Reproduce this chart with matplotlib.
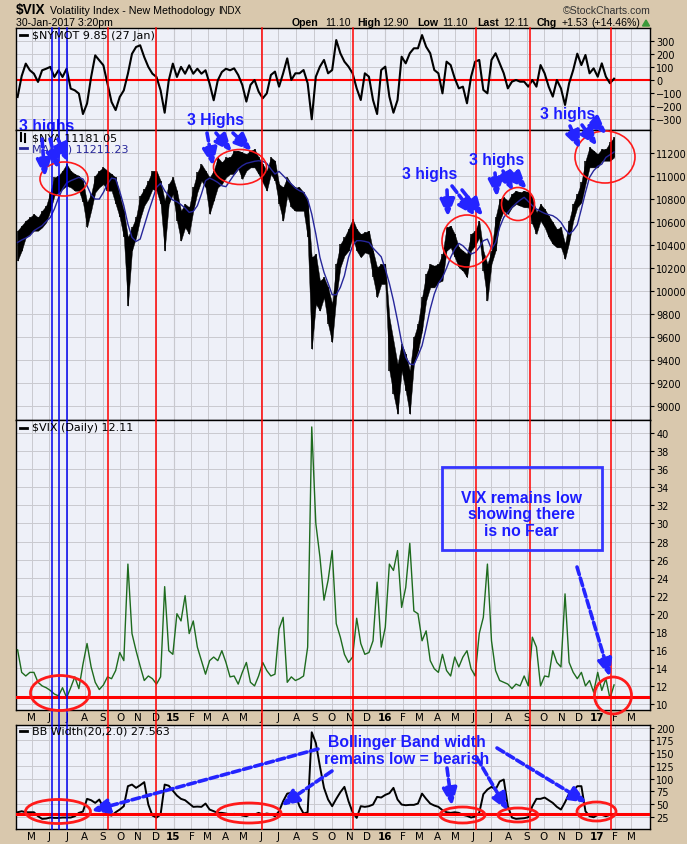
import numpy as np
import pandas as pd
import matplotlib
matplotlib.use('Agg')
import matplotlib.pyplot as plt
import matplotlib.dates as mdates
import matplotlib.transforms as mtransforms
from matplotlib.patches import Ellipse, Rectangle, Polygon, FancyArrowPatch, ArrowStyle
from matplotlib.lines import Line2D

# ---------------- data (weekly readings, Apr 2014 - 30 Jan 2017) ----------------
start_date = '2014-04-07'
end_date = '2017-01-30'
n_points = 147

nymot = [-130, 30, 125, 74, 48, -15, 74, 86, 100, 23,
         74, 23, 86, -66, -79, -104, -260, -180, 23, 188,
         150, 112, -28, -168, -230, -130, -79, 48, 200, 252,
         265, 175, 100, 48, 23, -79, -250, -3, 125, 23,
         100, 48, 112, 48, 86, 48, 74, -28, -155, -3,
         61, 86, 74, 89, 38, -38, -165, -38, 0, -89,
         -140, -102, 38, 64, -51, 51, 165, 0, 51, 51,
         76, -25, -300, 25, 102, 153, 51, 76, 305, 204,
         140, 102, 51, -64, -153, 51, 25, -153, -260, 76,
         102, -127, -250, -153, 178, 127, 204, 242, 242, 343,
         254, 204, 76, 51, -102, 140, 114, 13, -64, -51,
         -178, 25, 140, 153, -76, -102, 153, 204, 127, 51,
         -64, -13, 0, -13, -13, -51, 0, -51, 114, 51,
         -51, -127, 0, -64, -191, -25, 76, 201, 114, 191,
         51, 89, 25, 127, 25, -25, 10]

nya_high = [10525, 10569, 10612, 10641, 10670, 10641, 10699, 10743, 10859, 10990,
            11005, 11048, 11106, 11048, 11019, 11005, 10961, 10772, 10845, 11005,
            11048, 11077, 11048, 11019, 10990, 10830, 10699, 10467, 10554, 10641,
            10830, 10888, 10961, 11048, 11048, 10961, 10787, 10932, 10990, 10874,
            10699, 10758, 10729, 10903, 11034, 11106, 11048, 10990, 11048, 11164,
            11121, 11164, 11164, 11223, 11223, 11208, 11193, 11223, 11237, 11164,
            11106, 11048, 11164, 11135, 10932, 10903, 10990, 10932, 10903, 10903,
            10859, 10787, 10293, 10322, 10089, 10118, 10031, 9886, 10235, 10409,
            10467, 10540, 10627, 10540, 10496, 10511, 10525, 10351, 10205, 10235,
            10235, 9770, 9566, 9363, 9537, 9450, 9305, 9595, 9711, 9944,
            10147, 10235, 10220, 10235, 10322, 10554, 10569, 10496, 10380, 10351,
            10322, 10496, 10525, 10612, 10351, 10235, 10351, 10641, 10801, 10816,
            10787, 10845, 10874, 10859, 10874, 10859, 10816, 10685, 10758, 10714,
            10656, 10598, 10540, 10554, 10409, 10612, 10758, 10845, 10946, 11135,
            11252, 11223, 11193, 11237, 11237, 11295, 11339]

nya_low = [10264, 10351, 10467, 10496, 10525, 10525, 10554, 10598, 10699, 10830,
           10859, 10888, 10917, 10903, 10874, 10874, 10772, 10554, 10699, 10859,
           10903, 10932, 10874, 10874, 10758, 10641, 10467, 9871, 10351, 10467,
           10627, 10743, 10801, 10888, 10874, 10758, 10351, 10758, 10845, 10612,
           10438, 10554, 10496, 10699, 10859, 10961, 10903, 10670, 10787, 10903,
           10932, 10990, 11019, 11019, 11063, 10976, 11048, 11077, 11077, 11019,
           10946, 10874, 11019, 10961, 10758, 10612, 10830, 10729, 10699, 10699,
           10699, 10467, 9493, 9886, 9828, 9944, 9711, 9552, 9944, 10205,
           10307, 10351, 10467, 10351, 10293, 10336, 10322, 10118, 9944, 10060,
           10060, 9305, 9101, 8927, 9305, 9130, 8927, 9363, 9479, 9653,
           9915, 10031, 10031, 10075, 10089, 10351, 10380, 10293, 10205, 10176,
           10118, 10351, 10394, 10467, 10176, 9915, 10235, 10351, 10612, 10699,
           10670, 10729, 10758, 10743, 10729, 10729, 10583, 10496, 10612, 10554,
           10467, 10409, 10380, 10380, 10278, 10423, 10612, 10729, 10772, 10932,
           11077, 11077, 11077, 11135, 11135, 11135, 11164]

nya_ma20 = [10423, 10444, 10461, 10481, 10525, 10548, 10569, 10606, 10641, 10714,
            10810, 10888, 10941, 10961, 10976, 10990, 10976, 10917, 10839, 10801,
            10801, 10859, 10932, 10984, 10976, 10868, 10743, 10583, 10467, 10432,
            10452, 10569, 10685, 10792, 10903, 10938, 10874, 10830, 10792, 10778,
            10752, 10723, 10685, 10694, 10743, 10845, 10961, 10984, 10967, 10946,
            10917, 10909, 10961, 11013, 11063, 11092, 11112, 11121, 11130, 11135,
            11130, 11112, 11063, 11019, 11042, 11005, 10967, 10932, 10897, 10874,
            10859, 10801, 10670, 10496, 10293, 10162, 10066, 9967, 9967, 10031,
            10133, 10293, 10394, 10438, 10438, 10432, 10423, 10374, 10336, 10298,
            10191, 10066, 9915, 9741, 9552, 9421, 9363, 9357, 9435, 9523,
            9677, 9842, 9973, 10066, 10118, 10200, 10293, 10365, 10415, 10394,
            10357, 10322, 10336, 10380, 10438, 10452, 10365, 10423, 10554, 10641,
            10685, 10729, 10763, 10792, 10816, 10781, 10743, 10714, 10694, 10676,
            10665, 10656, 10633, 10598, 10540, 10496, 10525, 10577, 10714, 10859,
            10990, 11048, 11086, 11106, 11164, 11188, 11211.23]

vix = [16.0, 13.5, 13.1, 13.5, 13.5, 12.4, 12.0, 11.8, 11.5, 11.1,
       10.9, 11.8, 10.7, 11.8, 13.0, 11.7, 14.4, 16.7, 14.1, 12.4,
       11.6, 12.1, 13.0, 12.8, 13.7, 15.7, 14.8, 25.5, 17.8, 15.9,
       14.2, 12.6, 13.1, 12.8, 12.2, 13.0, 23.0, 15.9, 15.5, 20.0,
       19.2, 22.0, 17.8, 19.2, 16.3, 14.8, 13.3, 14.8, 15.2, 14.8,
       15.9, 14.6, 13.0, 13.1, 12.2, 13.5, 14.6, 12.4, 12.0, 13.1,
       14.6, 13.7, 13.1, 13.3, 18.3, 19.6, 12.4, 13.0, 12.6, 12.8,
       13.1, 16.3, 40.7, 30.0, 26.3, 21.5, 23.7, 27.0, 18.9, 17.4,
       15.5, 14.6, 15.2, 19.5, 16.7, 15.5, 15.7, 17.0, 23.5, 16.3,
       18.5, 25.5, 24.8, 27.0, 20.7, 22.9, 27.8, 20.3, 20.0, 17.0,
       18.1, 14.8, 13.9, 13.5, 15.5, 13.7, 13.1, 15.2, 14.1, 15.2,
       15.9, 13.9, 13.1, 17.8, 19.6, 25.5, 17.0, 13.7, 12.6, 12.4,
       12.2, 11.7, 12.2, 12.0, 13.1, 12.0, 17.4, 16.3, 12.0, 13.1,
       13.0, 15.9, 14.6, 14.1, 22.2, 14.6, 13.5, 12.8, 13.5, 12.0,
       12.6, 11.3, 13.5, 11.5, 12.8, 10.6, 12.11]

bb_width = [33.9, 35.9, 33.9, 33.9, 33.9, 26.1, 20.9, 21.5, 23.5, 22.8,
            22.8, 23.5, 23.5, 23.5, 26.1, 32.7, 35.3, 60.2, 57.5, 52.3,
            58.9, 42.5, 29.4, 27.4, 33.9, 39.2, 45.8, 85.1, 88.3, 81.8,
            87.0, 93.0, 49.0, 27.4, 23.5, 29.4, 88.3, 86.0, 76.5, 66.7,
            60.2, 57.5, 51.0, 44.5, 45.0, 44.5, 51.0, 39.2, 35.9, 32.7,
            32.7, 31.4, 29.4, 30.7, 30.0, 27.4, 26.1, 30.0, 29.4, 32.7,
            29.4, 31.4, 30.0, 26.1, 35.9, 55.6, 70.6, 72.0, 68.7, 45.8,
            31.4, 33.9, 191.0, 170.0, 124.0, 81.8, 58.9, 45.8, 60.2, 73.3,
            83.8, 55.6, 33.9, 22.8, 45.8, 44.5, 45.8, 49.0, 64.1, 62.8,
            68.0, 71.3, 81.8, 58.9, 49.0, 47.7, 48.4, 48.4, 51.0, 70.6,
            60.2, 51.0, 47.1, 44.5, 37.9, 33.9, 32.7, 33.9, 32.7, 28.7,
            26.8, 23.5, 25.5, 32.7, 69.4, 78.5, 83.8, 78.5, 94.3, 98.2,
            45.8, 23.5, 20.9, 21.5, 22.2, 24.1, 45.8, 60.2, 60.2, 62.8,
            57.5, 52.3, 44.5, 39.2, 53.6, 70.6, 76.5, 85.1, 85.1, 35.9,
            26.1, 24.1, 28.7, 28.7, 26.1, 28.7, 27.563]

red_dates = ['2014-09-10', '2014-12-02', '2015-06-03', '2015-11-07',
             '2016-06-06', '2016-09-07', '2017-01-24']
blue_dates = ['2014-06-05', '2014-06-18', '2014-07-01']
vix_level = 10.75
bb_level = 30.0

nymot_ticks = [-300, -200, -100, 0, 100, 200, 300]
nya_ticks = list(range(9000, 11201, 200))
vix_ticks = list(range(10, 41, 2))
bb_ticks = [25, 50, 75, 100, 125, 150, 175, 200]

# ---------------- figure ----------------
W, H = 687, 845
fig = plt.figure(figsize=(W / 100, H / 100), dpi=100)
BG = '#d9c8ad'
fig.patch.set_facecolor(BG)
PLOTBG = '#eef0f8'
GRID = '#c9c9cf'

def fx(px):
    return px / W

def fy(py):
    return 1 - py / H

dates = pd.date_range(start_date, end_date, periods=n_points)
x = mdates.date2num(dates)
xlim = (mdates.date2num(pd.Timestamp('2014-04-04 06:00')),
        mdates.date2num(pd.Timestamp('2017-04-02')))
month_starts = pd.date_range('2014-05-01', '2017-03-01', freq='MS')
mx = mdates.date2num(month_starts)
mlabels = [d.strftime('%y') if d.month == 1 else d.strftime('%b')[0] for d in month_starts]

L, R = 16, 650

def make_ax(top, bottom, ylim, yticks):
    ax = fig.add_axes([fx(L), fy(bottom), (R - L) / W, (bottom - top) / H])
    ax.set_facecolor(PLOTBG)
    ax.set_xlim(*xlim)
    ax.set_ylim(*ylim)
    ax.set_xticks(mx)
    ax.set_yticks(yticks)
    ax.yaxis.tick_right()
    ax.tick_params(axis='y', direction='out', length=3, width=0.8, labelsize=7, pad=1.5)
    ax.tick_params(axis='x', length=0, labelsize=7.5, pad=1.5)
    ax.grid(True, color=GRID, lw=0.7, zorder=0)
    ax.set_axisbelow(True)
    for yr in ['2015-01-01', '2016-01-01', '2017-01-01']:
        ax.axvline(mdates.date2num(pd.Timestamp(yr)), color='#a9a9b0', lw=0.8, zorder=0.5)
    for s in ax.spines.values():
        s.set_color('black')
        s.set_linewidth(1)
    return ax

ax1 = make_ax(29, 131, (-382, 397), nymot_ticks)
ax2 = make_ax(131, 421, (8875, 11403), nya_ticks)
ax3 = make_ax(421, 711, (9.33, 41.47), vix_ticks)
ax4 = make_ax(726, 830, (1, 205.3), bb_ticks)

for ax in (ax1, ax2):
    ax.set_xticklabels([])
for ax in (ax3, ax4):
    ax.set_xticklabels(mlabels)
    for lbl in ax.get_xticklabels():
        if lbl.get_text().isdigit():
            lbl.set_fontweight('bold')

# NYMOT
ax1.axhline(0, color='#ff0000', lw=1.5, zorder=2)
ax1.plot(x, nymot, color='black', lw=1.5, zorder=3)

# NYA (bar ribbon)
ax2.fill_between(x, nya_low, nya_high, color='black', lw=0.3, zorder=3)
ax2.vlines(x, nya_low, nya_high, color='black', lw=1.1, zorder=3)
ax2.plot(x, nya_ma20, color='#26269a', lw=1.0, zorder=4)

# VIX
ax3.plot(x, vix, color='#1e6b1e', lw=1.0, zorder=3)
ax3.axhline(vix_level, color='#ff0000', lw=2.2, zorder=4)

# BB width
ax4.plot(x, bb_width, color='black', lw=1.4, zorder=3)
ax4.axhline(bb_level, color='#ff0000', lw=2.2, zorder=4)

# vertical marker lines through all panels
trans = mtransforms.blended_transform_factory(ax1.transData, fig.transFigure)
for d in red_dates:
    xv = mdates.date2num(pd.Timestamp(d))
    fig.add_artist(Line2D([xv, xv], [fy(29), fy(830)], transform=trans, color='#ff0000', lw=1.1, zorder=5))
for d in blue_dates:
    xv = mdates.date2num(pd.Timestamp(d))
    fig.add_artist(Line2D([xv, xv], [fy(29), fy(830)], transform=trans, color='#0000ee', lw=1.1, zorder=5))

# ---------------- header ----------------
HF = 'Liberation Sans'
fig.text(fx(16), fy(10), r'\$VIX', fontsize=9.8, fontweight='bold', family=HF, va='center', ha='left')
fig.text(fx(50), fy(10.5), 'Volatility Index - New Methodology', fontsize=7.7, family=HF, va='center', ha='left')
fig.text(fx(218), fy(10.5), 'INDX', fontsize=7, family=HF, va='center', ha='left')
fig.text(fx(651), fy(11), '\u00a9StockCharts.com', fontsize=7.6, family=HF, va='center', ha='right', color='#333333')
fig.text(fx(16), fy(23.5), '30-Jan-2017 3:20pm', fontsize=7.6, family=HF, va='center', ha='left')
pieces = [(292, 'Open', True), (325, '11.10', False), (357, 'High', True), (382, '12.90', False),
          (417, 'Low', True), (442.5, '11.10', False), (477, 'Last', True), (503, '12.11', False),
          (537, 'Chg', True), (562, '+1.53', False), (591.5, '(+14.46%)', False)]
for px, s, b in pieces:
    fig.text(fx(px), fy(23.5), s, fontsize=7.6, family=HF, va='center', ha='left',
             fontweight='bold' if b else 'normal')
fig.add_artist(Polygon([(fx(642.5), fy(27)), (fx(649.5), fy(27)), (fx(646), fy(21))],
                       closed=True, transform=fig.transFigure, color='#3a9a3a'))

# ---------------- panel legends ----------------
def legend(py, text, color='black', dash=True):
    if dash:
        fig.add_artist(Line2D([fx(20), fx(27)], [fy(py), fy(py)], transform=fig.transFigure,
                              color=color, lw=2, zorder=6))
    fig.text(fx(32), fy(py), text, fontsize=8, color=color, va='center', ha='left', zorder=6)

legend(36, r'\$NYMOT 9.85 (27 Jan)')
legend(138.5, r'\$NYA 11181.05', dash=False)
fig.add_artist(Line2D([fx(21), fx(21)], [fy(134), fy(142)], transform=fig.transFigure, color='black', lw=1.5))
fig.add_artist(Line2D([fx(25), fx(25)], [fy(135), fy(143)], transform=fig.transFigure, color='black', lw=1.5))
legend(149, 'MA(20) 11211.23', color='#26269a')
legend(428.5, r'\$VIX (Daily) 12.11')
legend(731.5, 'BB Width(20,2.0) 27.563')

# ---------------- annotations ----------------
ABLUE = '#1c1cff'

def note(px, py, s, size=11.3, clip_ax=None):
    if clip_ax is None:
        fig.text(fx(px), fy(py), s, fontsize=size, fontweight='bold', family=HF, color=ABLUE,
                 ha='center', va='center', zorder=7, linespacing=1.15)
    else:
        clip_ax.text(fx(px), fy(py), s, fontsize=size, fontweight='bold', family=HF, color=ABLUE,
                     ha='center', va='center', zorder=7, transform=fig.transFigure, clip_on=True)

def arrow(x0, y0, x1, y1):
    a = FancyArrowPatch((fx(x0), fy(y0)), (fx(x1), fy(y1)), transform=fig.transFigure,
                        arrowstyle=ArrowStyle('-|>', head_length=1.3, head_width=0.55),
                        mutation_scale=8, color='#2424ff', lw=2.6, linestyle=(0, (2.2, 1.0)),
                        shrinkA=0, shrinkB=0, zorder=7)
    fig.add_artist(a)

def ring(cx, cy, w, h, lw=1.2):
    fig.add_artist(Ellipse((fx(cx), fy(cy)), w / W, h / H, transform=fig.transFigure,
                           fill=False, ec='#ff1a1a', lw=lw, zorder=6))

# NYA / NYMOT notes
note(47, 127, '3 highs', clip_ax=ax1)
arrow(42, 140, 45, 178)
arrow(50, 140, 58, 170)
arrow(58, 140, 68, 163)
ring(64, 180, 48, 34)

note(215, 121, '3 Highs')
arrow(207, 134, 213, 167)
arrow(216, 134, 232, 153)
arrow(233, 134, 252, 152)
ring(240, 168, 53, 35)

note(430, 175, '3 highs')
arrow(447, 191, 448, 218)
arrow(452, 187, 475, 217)
arrow(462, 191, 483, 217)
ring(467, 242, 50, 52)

note(497, 160, '3 highs')
arrow(495, 174, 497, 198)
arrow(503, 172, 513, 192)
arrow(510, 172, 527, 190)
ring(518, 205, 33, 33)

note(568, 115, '3 highs')
arrow(570, 127, 580, 150)
arrow(582, 126, 597, 147)
arrow(595, 124, 607, 135)
ring(605, 158, 60, 52)

# VIX notes
fig.add_artist(Rectangle((fx(441.7), fy(550.7)), (601.7 - 441.7) / W, (550.7 - 468.3) / H,
                         transform=fig.transFigure, fill=False, ec='#3535ff', lw=2, zorder=6))
note(521.7, 515, 'VIX remains low\nshowing there\nis no Fear')
arrow(577, 568, 610, 678)
ring(60, 694, 59, 35, lw=2)
ring(613, 696.5, 37, 37, lw=2)

# BB width notes
note(407, 751, 'Bollinger Band width\nremains low = bearish')
arrow(318, 750, 91, 812)
arrow(332, 772, 281, 807)
arrow(447, 769, 452, 807)
arrow(477, 759, 508, 812)
arrow(497, 749, 587, 804)
ring(58, 812.5, 65, 24, lw=2)
ring(249, 814, 64, 20, lw=2)
ring(462.5, 816, 45, 16, lw=2)
ring(518, 816, 40, 14, lw=2)
ring(596.5, 812.5, 39, 19, lw=2)

fig.savefig('out.png', dpi=100, facecolor=BG)
